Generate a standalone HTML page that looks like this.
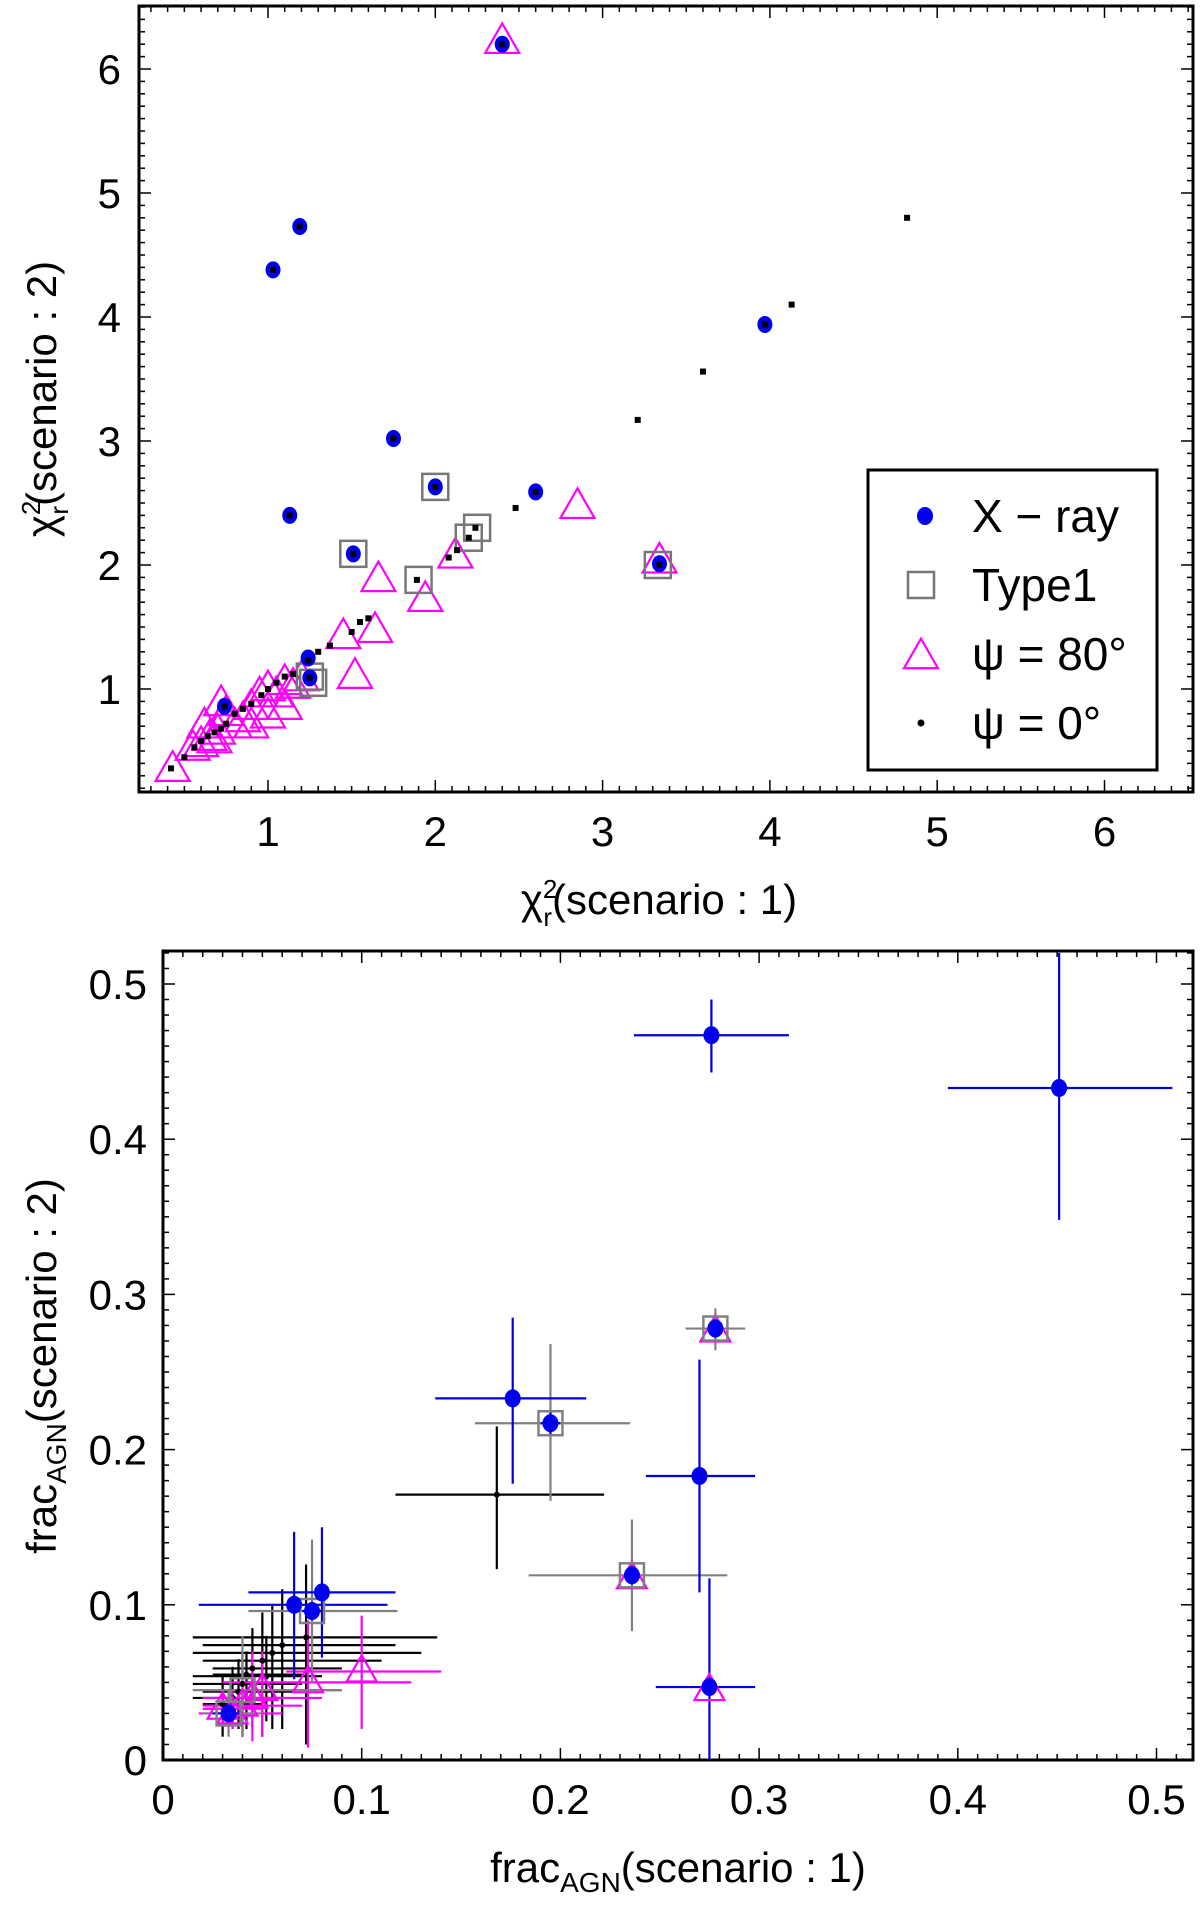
<!DOCTYPE html>
<html><head><meta charset="utf-8"><style>
body{margin:0;background:#fff}
svg text{font-family:"Liberation Sans","DejaVu Sans",sans-serif}
</style></head><body>
<svg id="fig" width="1200" height="1902" viewBox="0 0 1200 1902" xmlns="http://www.w3.org/2000/svg"></svg>
<script>
// ---------- top chart data ----------
const xrayX=[2.4,1.03,1.19,3.97,1.75,1.13,2.0,2.6,1.51,3.34,1.24,1.25,0.74];
const xrayY=[6.2,4.38,4.73,3.94,3.02,2.4,2.63,2.59,2.09,2.01,1.25,1.09,0.86];
const type1X=[2.0,1.51,2.25,2.2,1.9,3.33,1.25,1.27];
const type1Y=[2.63,2.09,2.3,2.22,1.88,2.0,1.1,1.05];
const tri80X=[2.4,2.85,3.34,2.12,1.66,1.94,1.45,1.64,1.52,0.43,0.6,0.65,0.7,0.75,0.8,0.85,0.9,0.95,1.0,1.05,1.1,1.15,0.72,0.62,1.0,1.1,0.9,0.68,1.2,0.55];
const tri80Y=[6.22,2.47,2.03,2.07,1.88,1.72,1.42,1.47,1.1,0.35,0.55,0.6,0.65,0.8,0.7,0.75,0.85,0.95,0.78,0.95,1.05,1.02,0.88,0.7,1.0,0.85,0.7,0.58,1.08,0.52];
const psi0X=[4.82,4.13,3.6,3.21,2.48,2.24,2.2,2.13,2.08,1.89,1.6,1.55,1.5,1.37,1.3,1.24,1.15,1.1,1.05,1.0,0.96,0.9,0.85,0.8,0.75,0.72,0.68,0.64,0.6,0.56,0.5,0.42,2.0,1.51,3.34,2.4,1.03,1.19,3.97,1.75,1.13,2.6,1.25,0.74];
const psi0Y=[4.8,4.1,3.56,3.17,2.46,2.3,2.22,2.12,2.06,1.88,1.57,1.54,1.46,1.35,1.3,1.23,1.12,1.1,1.05,1.0,0.95,0.88,0.84,0.8,0.72,0.68,0.65,0.62,0.58,0.53,0.45,0.36,2.63,2.09,2.0,6.2,4.38,4.73,3.94,3.02,2.4,2.59,1.09,0.86];
const topTicks=[1,2,3,4,5,6];
// ---------- bottom chart data ----------
const bBlueX=[0.276,0.451,0.176,0.195,0.27,0.275,0.236,0.278,0.066,0.08,0.075,0.033];
const bBlueY=[0.467,0.433,0.233,0.217,0.183,0.047,0.119,0.278,0.1,0.108,0.096,0.03];
const bBlueXlo=[0.237,0.395,0.137,0.19,0.243,0.248,0.232,0.274,0.018,0.043,0.07,0.025];
const bBlueXhi=[0.315,0.508,0.213,0.2,0.298,0.298,0.24,0.282,0.113,0.117,0.08,0.04];
const bBlueYlo=[0.443,0.348,0.178,0.21,0.108,0.0,0.113,0.272,0.052,0.066,0.09,0.022];
const bBlueYhi=[0.49,0.52,0.285,0.224,0.258,0.117,0.125,0.284,0.147,0.15,0.102,0.038];
const bGrayX=[0.195,0.236,0.278,0.075,0.033,0.04];
const bGrayY=[0.217,0.119,0.278,0.096,0.03,0.045];
const bGrayXlo=[0.157,0.184,0.263,0.043,0.02,0.015];
const bGrayXhi=[0.235,0.284,0.293,0.118,0.05,0.09];
const bGrayYlo=[0.167,0.083,0.264,0.05,0.015,0.015];
const bGrayYhi=[0.268,0.155,0.291,0.142,0.045,0.08];
const bBlackX=[0.168,0.072,0.06,0.055,0.05,0.045,0.052,0.04,0.038,0.035,0.03,0.042];
const bBlackY=[0.171,0.079,0.074,0.069,0.064,0.059,0.054,0.049,0.044,0.04,0.036,0.055];
const bBlackXlo=[0.117,0.015,0.02,0.015,0.02,0.025,0.015,0.015,0.02,0.015,0.02,0.025];
const bBlackXhi=[0.222,0.138,0.117,0.13,0.11,0.09,0.08,0.07,0.065,0.06,0.05,0.07];
const bBlackYlo=[0.123,0.01,0.02,0.02,0.015,0.02,0.025,0.015,0.02,0.02,0.015,0.02];
const bBlackYhi=[0.215,0.126,0.11,0.1,0.095,0.085,0.08,0.07,0.065,0.06,0.055,0.07];
const bMagX=[0.1,0.073,0.275,0.236,0.278,0.045,0.04,0.035,0.05,0.03];
const bMagY=[0.057,0.05,0.045,0.117,0.276,0.04,0.035,0.03,0.045,0.033];
const bMagXlo=[0.062,0.03,0.272,0.233,0.275,0.02,0.02,0.018,0.02,0.02];
const bMagXhi=[0.14,0.125,0.278,0.239,0.281,0.08,0.07,0.06,0.09,0.05];
const bMagYlo=[0.02,0.008,0.042,0.112,0.27,0.012,0.015,0.02,0.015,0.022];
const bMagYhi=[0.093,0.09,0.05,0.122,0.283,0.07,0.06,0.045,0.07,0.045];
const botTicks=[0,0.1,0.2,0.3,0.4,0.5];
const botTickLabels=["0","0.1","0.2","0.3","0.4","0.5"];

const NS="http://www.w3.org/2000/svg";
const svg=document.getElementById('fig');
function mk(tag,attrs,parent){const e=document.createElementNS(NS,tag);for(const k in attrs)e.setAttribute(k,attrs[k]);(parent||svg).appendChild(e);return e;}

const T={l:139,r:1193,t:6,b:792};
const tx=v=>268+(v-1)*167.3;
const ty=v=>689-(v-1)*124;
const B={l:163,r:1193,t:951,b:1760};
const bx=v=>163+v*1987;
const by=v=>1760-v*1552;

function frame(F,name){
  const r=mk('rect',{x:F.l,y:F.t,width:F.r-F.l,height:F.b-F.t,fill:'none',stroke:'#000','stroke-width':3});
  
  
}
function ticks(F,fx,fy,xmin,xmax,ymin,ymax,minor,major){
  const g=mk('g',{stroke:'#000','stroke-width':1.5});
  
  
  const n0=Math.ceil(xmin/minor-1e-6),n1=Math.floor(xmax/minor+1e-6);
  for(let i=n0;i<=n1;i++){const v=i*minor;const isM=Math.abs(v/major-Math.round(v/major))<1e-6;const L=isM?12:6;const x=fx(v);
    mk('line',{x1:x,y1:F.b,x2:x,y2:F.b-L},g);mk('line',{x1:x,y1:F.t,x2:x,y2:F.t+L},g);}
  const m0=Math.ceil(ymin/minor-1e-6),m1=Math.floor(ymax/minor+1e-6);
  for(let i=m0;i<=m1;i++){const v=i*minor;const isM=Math.abs(v/major-Math.round(v/major))<1e-6;const L=isM?12:6;const y=fy(v);
    mk('line',{x1:F.l,y1:y,x2:F.l+L,y2:y},g);mk('line',{x1:F.r,y1:y,x2:F.r-L,y2:y},g);}
}
function triPts(x,y,s){const h=s*0.87;return `${x},${y-h*0.62} ${x-s/2},${y+h*0.38} ${x+s/2},${y+h*0.38}`;}

// ===== TOP =====
frame(T,'top-plot-frame');
ticks(T,tx,ty,0.23,6.53,0.17,6.51,0.1,1);
topTicks.forEach(v=>{
  const a=mk('text',{x:tx(v),y:T.b+54,'font-size':42,'text-anchor':'middle'});a.textContent=v;
  
  const b=mk('text',{x:T.l-18,y:ty(v)+15,'font-size':42,'text-anchor':'end'});b.textContent=v;
  
});
let gt=mk('g',{fill:'none',stroke:'#ff00ff','stroke-width':2.2});

tri80X.forEach((v,i)=>{const p=mk('polygon',{points:triPts(tx(v),ty(tri80Y[i]),34)},gt);
  });
let gs=mk('g',{fill:'none',stroke:'#777','stroke-width':2.5});

type1X.forEach((v,i)=>{const p=mk('rect',{x:tx(v)-13,y:ty(type1Y[i])-13,width:26,height:26},gs);
  });
let gb=mk('g',{fill:'#0000ee'});

xrayX.forEach((v,i)=>{const p=mk('ellipse',{cx:tx(v),cy:ty(xrayY[i]),rx:7.5,ry:8.5},gb);
  });
let gk=mk('g',{fill:'#000'});

psi0X.forEach((v,i)=>{const p=mk('rect',{x:tx(v)-3,y:ty(psi0Y[i])-3,width:6,height:6},gk);
  });
// legend
const lg=mk('g',{});
mk('rect',{x:868,y:470,width:289,height:300,fill:'#fff',stroke:'#000','stroke-width':3},lg);
const ly=[516,585,654,723];
const labels=['X − ray','Type1','ψ = 80°','ψ = 0°'];
mk('ellipse',{cx:925,cy:ly[0],rx:8,ry:9,fill:'#0000ee'},lg);
mk('rect',{x:908,y:ly[1]-13,width:26,height:26,fill:'none',stroke:'#777','stroke-width':2.5},lg);
mk('polygon',{points:triPts(921,ly[2]+3,34),fill:'none',stroke:'#ff00ff','stroke-width':2.2},lg);
mk('circle',{cx:921,cy:ly[3],r:3.5,fill:'#000'},lg);
labels.forEach((s,i)=>{const t=mk('text',{x:972,y:ly[i]+16,'font-size':46},lg);t.textContent=s;
  });
let t1=mk('text',{x:659,y:914,'font-size':42,'text-anchor':'middle'});
t1.innerHTML='χ<tspan font-size="26" dy="-16">2</tspan><tspan font-size="26" dx="-14" dy="28">r</tspan><tspan dy="-12">(scenario : 1)</tspan>';

let t2=mk('text',{x:0,y:0,'font-size':42,'text-anchor':'middle',transform:'translate(56,399) rotate(-90)'});
t2.innerHTML='χ<tspan font-size="26" dy="-16">2</tspan><tspan font-size="26" dx="-14" dy="28">r</tspan><tspan dy="-12">(scenario : 2)</tspan>';


// ===== BOTTOM =====
frame(B,'bottom-plot-frame');
ticks(B,bx,by,0,0.518,0,0.521,0.01,0.1);
botTicks.forEach((v,i)=>{
  const a=mk('text',{x:bx(v),y:B.b+54,'font-size':42,'text-anchor':'middle'});a.textContent=botTickLabels[i];
  
  const b=mk('text',{x:B.l-16,y:by(v)+15,'font-size':42,'text-anchor':'end'});b.textContent=botTickLabels[i];
  
});
function errs(X,Y,Xl,Xh,Yl,Yh,col,name){
  const g=mk('g',{stroke:col,'stroke-width':2.2});
  
  X.forEach((v,i)=>{
    const h=mk('line',{x1:bx(Xl[i]),y1:by(Y[i]),x2:bx(Xh[i]),y2:by(Y[i])},g);
    
    const w=mk('line',{x1:bx(v),y1:by(Yl[i]),x2:bx(v),y2:by(Yh[i])},g);
    
  });
}
errs(bBlackX,bBlackY,bBlackXlo,bBlackXhi,bBlackYlo,bBlackYhi,'#000','psi0-error-bars');
errs(bMagX,bMagY,bMagXlo,bMagXhi,bMagYlo,bMagYhi,'#ff00ff','psi80-error-bars');
errs(bGrayX,bGrayY,bGrayXlo,bGrayXhi,bGrayYlo,bGrayYhi,'#808080','type1-error-bars');
errs(bBlueX,bBlueY,bBlueXlo,bBlueXhi,bBlueYlo,bBlueYhi,'#0000dd','xray-error-bars');
let g2=mk('g',{fill:'#000'});
bBlackX.forEach((v,i)=>{const p=mk('circle',{cx:bx(v),cy:by(bBlackY[i]),r:3},g2);
  });
let g3=mk('g',{fill:'none',stroke:'#ff00ff','stroke-width':2.2});
bMagX.forEach((v,i)=>{const p=mk('polygon',{points:triPts(bx(v),by(bMagY[i]),30)},g3);
  });
let g4=mk('g',{fill:'none',stroke:'#808080','stroke-width':2.5});
bGrayX.forEach((v,i)=>{const p=mk('rect',{x:bx(v)-12,y:by(bGrayY[i])-12,width:24,height:24},g4);
  });
let g5=mk('g',{fill:'#0000ee'});
bBlueX.forEach((v,i)=>{const p=mk('ellipse',{cx:bx(v),cy:by(bBlueY[i]),rx:8,ry:9},g5);
  });
let t3=mk('text',{x:678,y:1882,'font-size':42,'text-anchor':'middle'});
t3.innerHTML='frac<tspan font-size="28" dy="10">AGN</tspan><tspan dy="-10">(scenario : 1)</tspan>';

let t4=mk('text',{x:0,y:0,'font-size':42,'text-anchor':'middle',transform:'translate(56,1366) rotate(-90)'});
t4.innerHTML='frac<tspan font-size="28" dy="10">AGN</tspan><tspan dy="-10">(scenario : 2)</tspan>';

</script>
</body></html>
